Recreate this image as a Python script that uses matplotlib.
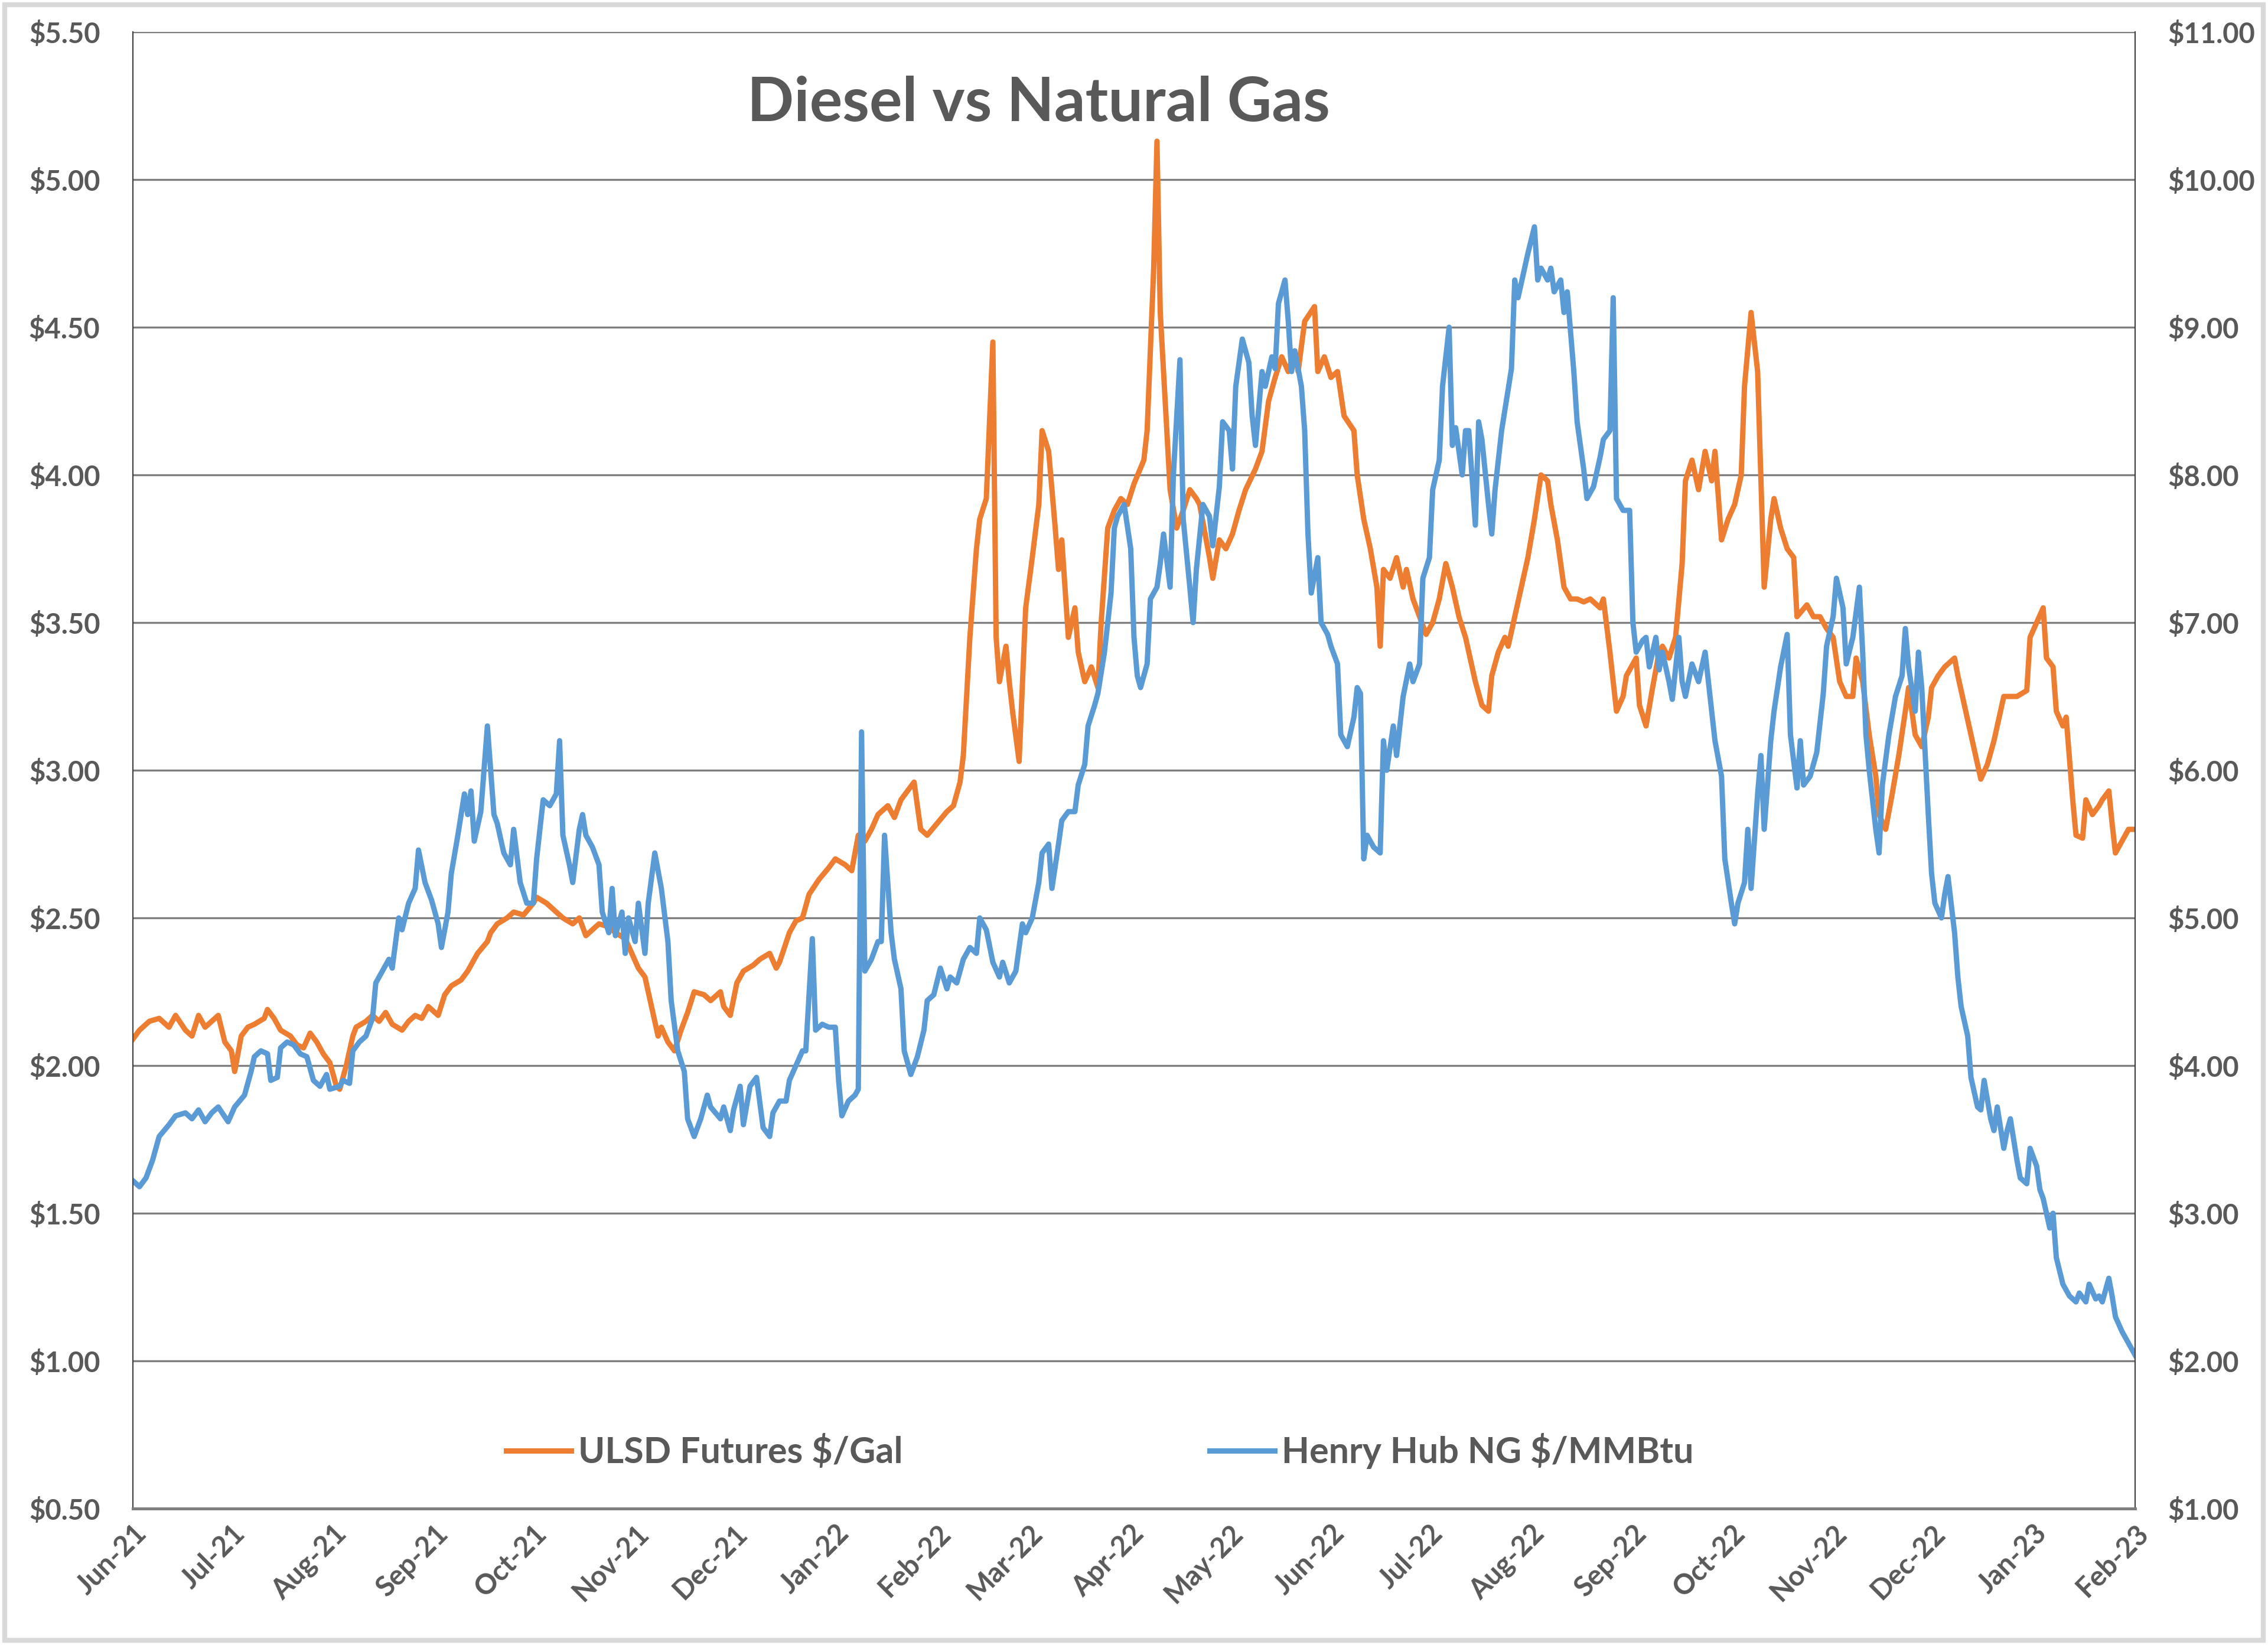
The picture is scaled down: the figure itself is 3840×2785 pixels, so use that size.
import datetime as dt

import matplotlib
matplotlib.use('Agg')
import matplotlib.pyplot as plt
import matplotlib.dates as mdates
from matplotlib.patches import Rectangle
from matplotlib.ticker import FuncFormatter, MultipleLocator

plt.rcParams['font.family'] = ['Lato', 'DejaVu Sans']

# chart data
start_date = dt.date(2021, 6, 1)
end_day = 610

title = 'Diesel vs Natural Gas'
ulsd_label = 'ULSD Futures $/Gal'
ng_label = 'Henry Hub NG $/MMBtu'

# ULSD futures, days since start_date and $/gal
ulsd_day = [
    0, 2, 5, 8, 11, 13, 16, 18, 20, 22, 25, 26, 28, 30, 31, 33, 35, 37, 40, 41,
    43, 45, 48, 50, 52, 54, 56, 58, 60, 62, 63, 65, 67, 68, 71, 73, 75, 77, 79, 82,
    84, 86, 88, 90, 93, 95, 97, 100, 102, 105, 108, 109, 111, 114, 116, 119, 122, 123, 126, 129,
    131, 134, 136, 138, 140, 142, 145, 147, 150, 152, 154, 156, 158, 160, 161, 163, 165, 167, 169, 171,
    174, 176, 179, 180, 182, 184, 186, 189, 191, 194, 196, 197, 200, 202, 204, 206, 209, 212, 214, 217,
    219, 221, 223, 225, 227, 230, 232, 234, 236, 238, 240, 242, 245, 248, 250, 252, 253, 255, 257, 258,
    260, 262, 263, 264, 266, 267, 268, 270, 272, 274, 276, 277, 279, 281, 282, 283, 285, 287, 288, 290,
    292, 294, 295, 297, 299, 301, 303, 305, 308, 309, 311, 312, 313, 315, 316, 318, 320, 322, 324, 325,
    328, 329, 331, 333, 335, 337, 339, 342, 344, 346, 348, 350, 352, 354, 355, 357, 360, 361, 363, 365,
    367, 369, 372, 373, 375, 377, 379, 380, 381, 383, 385, 387, 388, 390, 392, 394, 396, 398, 400, 402,
    404, 406, 407, 409, 411, 413, 414, 416, 418, 419, 421, 423, 425, 427, 429, 431, 432, 434, 436, 438,
    440, 442, 444, 447, 448, 450, 452, 454, 455, 458, 459, 461, 463, 465, 466, 468, 470, 472, 473, 475,
    477, 479, 481, 482, 484, 486, 488, 490, 491, 493, 495, 497, 499, 500, 502, 504, 506, 507, 510, 512,
    514, 516, 518, 520, 522, 524, 525, 527, 529, 531, 532, 534, 536, 538, 540, 541, 543, 545, 547, 548,
    550, 552, 555, 556, 558, 560, 562, 563, 565, 567, 569, 570, 572, 574, 577, 578, 580, 582, 583, 585,
    586, 588, 589, 591, 592, 594, 595, 597, 599, 600, 602, 603, 604, 606, 608, 610,
]
ulsd_price = [
    2.09, 2.12, 2.15, 2.16, 2.13, 2.17, 2.12, 2.10, 2.17, 2.13, 2.16, 2.17, 2.08, 2.05, 1.98, 2.10, 2.13, 2.14, 2.16, 2.19,
    2.16, 2.12, 2.10, 2.07, 2.06, 2.11, 2.08, 2.04, 2.01, 1.93, 1.92, 2.00, 2.10, 2.13, 2.15, 2.17, 2.15, 2.18, 2.14, 2.12,
    2.15, 2.17, 2.16, 2.20, 2.17, 2.24, 2.27, 2.29, 2.32, 2.38, 2.42, 2.45, 2.48, 2.50, 2.52, 2.51, 2.55, 2.57, 2.55, 2.52,
    2.50, 2.48, 2.50, 2.44, 2.46, 2.48, 2.47, 2.45, 2.43, 2.38, 2.33, 2.30, 2.20, 2.10, 2.13, 2.08, 2.05, 2.12, 2.18, 2.25,
    2.24, 2.22, 2.25, 2.20, 2.17, 2.28, 2.32, 2.34, 2.36, 2.38, 2.33, 2.35, 2.45, 2.49, 2.50, 2.58, 2.63, 2.67, 2.70, 2.68,
    2.66, 2.78, 2.76, 2.80, 2.85, 2.88, 2.84, 2.90, 2.93, 2.96, 2.80, 2.78, 2.82, 2.86, 2.88, 2.96, 3.05, 3.45, 3.75, 3.85,
    3.92, 4.45, 3.45, 3.30, 3.42, 3.30, 3.20, 3.03, 3.55, 3.72, 3.90, 4.15, 4.08, 3.82, 3.68, 3.78, 3.45, 3.55, 3.40, 3.30,
    3.35, 3.28, 3.50, 3.82, 3.88, 3.92, 3.90, 3.97, 4.05, 4.15, 4.70, 5.13, 4.55, 4.15, 3.95, 3.82, 3.88, 3.95, 3.92, 3.90,
    3.72, 3.65, 3.78, 3.75, 3.80, 3.88, 3.95, 4.02, 4.08, 4.25, 4.33, 4.40, 4.35, 4.42, 4.35, 4.52, 4.57, 4.35, 4.40, 4.33,
    4.35, 4.20, 4.15, 4.00, 3.85, 3.75, 3.62, 3.42, 3.68, 3.65, 3.72, 3.62, 3.68, 3.58, 3.52, 3.46, 3.50, 3.58, 3.70, 3.62,
    3.52, 3.45, 3.40, 3.30, 3.22, 3.20, 3.32, 3.40, 3.45, 3.42, 3.52, 3.62, 3.72, 3.85, 4.00, 3.98, 3.90, 3.78, 3.62, 3.58,
    3.58, 3.57, 3.58, 3.55, 3.58, 3.40, 3.20, 3.25, 3.32, 3.38, 3.22, 3.15, 3.28, 3.40, 3.42, 3.38, 3.45, 3.70, 3.98, 4.05,
    3.95, 4.08, 3.98, 4.08, 3.78, 3.85, 3.90, 4.00, 4.30, 4.55, 4.35, 3.62, 3.85, 3.92, 3.82, 3.75, 3.72, 3.52, 3.56, 3.52,
    3.52, 3.48, 3.45, 3.30, 3.25, 3.25, 3.38, 3.30, 3.12, 2.98, 2.85, 2.80, 2.92, 3.05, 3.20, 3.28, 3.12, 3.08, 3.18, 3.28,
    3.32, 3.35, 3.38, 3.32, 3.22, 3.12, 3.02, 2.97, 3.02, 3.10, 3.20, 3.25, 3.25, 3.25, 3.27, 3.45, 3.50, 3.55, 3.38, 3.35,
    3.20, 3.15, 3.18, 2.90, 2.78, 2.77, 2.90, 2.85, 2.88, 2.90, 2.93, 2.82, 2.72, 2.76, 2.80, 2.80,
]

# Henry Hub natural gas, days since start_date and $/MMBtu
ng_day = [
    0, 2, 4, 6, 8, 11, 13, 16, 18, 20, 22, 24, 26, 29, 31, 34, 36, 37, 39, 41,
    42, 44, 45, 47, 49, 51, 53, 55, 57, 59, 60, 63, 64, 66, 67, 69, 71, 73, 74, 76,
    78, 79, 81, 82, 84, 86, 87, 89, 91, 93, 94, 96, 97, 99, 101, 102, 103, 104, 106, 108,
    110, 111, 113, 115, 116, 118, 120, 122, 123, 125, 127, 129, 130, 131, 133, 134, 136, 137, 138, 140,
    142, 143, 145, 146, 147, 149, 150, 151, 153, 154, 156, 157, 159, 161, 163, 164, 166, 168, 169, 171,
    173, 175, 176, 179, 180, 182, 183, 185, 186, 188, 190, 192, 194, 195, 197, 199, 200, 202, 204, 205,
    207, 208, 210, 212, 214, 215, 216, 218, 220, 221, 222, 223, 225, 227, 228, 229, 231, 232, 234, 235,
    237, 239, 241, 242, 244, 246, 248, 249, 251, 253, 255, 257, 258, 260, 262, 264, 265, 267, 269, 271,
    272, 274, 276, 277, 279, 280, 282, 283, 285, 287, 288, 290, 291, 293, 294, 296, 298, 299, 300, 302,
    304, 305, 306, 307, 309, 310, 312, 313, 314, 316, 317, 319, 320, 322, 323, 324, 326, 328, 329, 331,
    332, 334, 335, 336, 338, 340, 341, 342, 344, 345, 347, 348, 349, 351, 352, 353, 354, 356, 357, 358,
    359, 361, 362, 364, 365, 367, 368, 370, 372, 373, 374, 375, 376, 378, 380, 381, 382, 384, 385, 387,
    389, 390, 392, 393, 395, 396, 398, 399, 401, 402, 403, 405, 406, 407, 409, 410, 411, 413, 414, 415,
    417, 418, 420, 421, 422, 424, 425, 427, 428, 429, 431, 432, 433, 435, 436, 437, 439, 440, 442, 443,
    445, 447, 448, 450, 451, 452, 454, 456, 457, 458, 460, 461, 462, 464, 465, 466, 468, 469, 471, 472,
    473, 475, 477, 479, 481, 482, 484, 485, 487, 488, 489, 491, 492, 493, 495, 496, 497, 499, 500, 502,
    504, 505, 507, 508, 509, 511, 513, 515, 516, 518, 519, 521, 522, 524, 526, 527, 528, 529, 531, 532,
    533, 535, 537, 539, 540, 541, 543, 544, 545, 547, 548, 549, 551, 552, 553, 555, 556, 557, 559, 560,
    562, 563, 564, 566, 567, 568, 570, 571, 572, 574, 575, 577, 578, 580, 581, 582, 584, 585, 586, 588,
    590, 592, 593, 595, 596, 598, 599, 600, 602, 603, 604, 606, 608, 610,
]
ng_price = [
    3.22, 3.18, 3.24, 3.36, 3.52, 3.60, 3.66, 3.68, 3.64, 3.70, 3.62, 3.68, 3.72, 3.62, 3.72, 3.80, 3.96, 4.06, 4.10, 4.08,
    3.90, 3.92, 4.12, 4.16, 4.14, 4.08, 4.06, 3.90, 3.86, 3.94, 3.84, 3.86, 3.90, 3.88, 4.10, 4.16, 4.20, 4.32, 4.56, 4.64,
    4.72, 4.66, 5.00, 4.92, 5.10, 5.20, 5.46, 5.24, 5.12, 4.96, 4.80, 5.04, 5.30, 5.56, 5.84, 5.70, 5.86, 5.52, 5.72, 6.30,
    5.70, 5.64, 5.44, 5.36, 5.60, 5.24, 5.10, 5.10, 5.40, 5.80, 5.76, 5.84, 6.20, 5.56, 5.36, 5.24, 5.60, 5.70, 5.56, 5.48,
    5.36, 5.04, 4.90, 5.20, 4.88, 5.04, 4.76, 5.00, 4.84, 5.10, 4.76, 5.10, 5.44, 5.20, 4.84, 4.44, 4.10, 3.96, 3.64, 3.52,
    3.64, 3.80, 3.72, 3.64, 3.72, 3.56, 3.70, 3.86, 3.60, 3.86, 3.92, 3.58, 3.52, 3.68, 3.76, 3.76, 3.90, 4.00, 4.10, 4.10,
    4.86, 4.24, 4.28, 4.26, 4.26, 3.90, 3.66, 3.76, 3.80, 3.84, 6.26, 4.64, 4.72, 4.84, 4.84, 5.56, 4.90, 4.72, 4.52, 4.10,
    3.94, 4.06, 4.24, 4.44, 4.48, 4.66, 4.52, 4.60, 4.56, 4.72, 4.80, 4.76, 5.00, 4.92, 4.70, 4.60, 4.70, 4.56, 4.64, 4.96,
    4.90, 5.00, 5.24, 5.44, 5.50, 5.20, 5.50, 5.66, 5.72, 5.72, 5.90, 6.04, 6.30, 6.44, 6.52, 6.80, 7.20, 7.64, 7.72, 7.80,
    7.50, 6.90, 6.64, 6.56, 6.72, 7.16, 7.24, 7.40, 7.60, 7.24, 8.00, 8.78, 7.70, 7.24, 7.00, 7.36, 7.80, 7.72, 7.52, 7.92,
    8.36, 8.30, 8.04, 8.60, 8.92, 8.76, 8.40, 8.20, 8.70, 8.60, 8.80, 8.72, 9.16, 9.32, 9.04, 8.70, 8.84, 8.60, 8.30, 7.60,
    7.20, 7.44, 7.00, 6.92, 6.84, 6.72, 6.24, 6.16, 6.36, 6.56, 6.52, 5.40, 5.56, 5.48, 5.44, 6.20, 6.00, 6.30, 6.10, 6.50,
    6.72, 6.60, 6.72, 7.30, 7.44, 7.90, 8.10, 8.60, 9.00, 8.20, 8.32, 8.00, 8.30, 8.30, 7.66, 8.36, 8.24, 7.80, 7.60, 7.90,
    8.30, 8.44, 8.72, 9.32, 9.20, 9.40, 9.50, 9.68, 9.32, 9.40, 9.32, 9.40, 9.24, 9.32, 9.10, 9.24, 8.70, 8.36, 8.04, 7.84,
    7.92, 8.12, 8.24, 8.30, 9.20, 7.84, 7.76, 7.76, 7.00, 6.80, 6.88, 6.90, 6.70, 6.90, 6.68, 6.80, 6.60, 6.48, 6.90, 6.60,
    6.50, 6.72, 6.60, 6.80, 6.40, 6.20, 5.96, 5.40, 5.10, 4.96, 5.10, 5.24, 5.60, 5.20, 5.84, 6.10, 5.60, 6.20, 6.40, 6.70,
    6.92, 6.24, 5.88, 6.20, 5.90, 5.96, 6.12, 6.52, 6.84, 7.04, 7.30, 7.10, 6.72, 6.90, 7.24, 6.80, 6.24, 6.00, 5.60, 5.44,
    5.90, 6.24, 6.50, 6.64, 6.96, 6.70, 6.40, 6.80, 6.56, 5.70, 5.30, 5.10, 5.00, 5.16, 5.28, 4.90, 4.60, 4.40, 4.20, 3.92,
    3.72, 3.70, 3.90, 3.64, 3.56, 3.72, 3.44, 3.56, 3.64, 3.36, 3.24, 3.20, 3.44, 3.32, 3.16, 3.10, 2.90, 3.00, 2.70, 2.52,
    2.44, 2.40, 2.46, 2.40, 2.52, 2.42, 2.44, 2.40, 2.56, 2.44, 2.30, 2.20, 2.12, 2.04,
]

ORANGE = '#ED7D31'
BLUE = '#5B9BD5'
TEXT = '#595959'
GRID = '#7F7F7F'


def to_dates(days):
    # day offsets -> real dates
    return [start_date + dt.timedelta(days=d) for d in days]


def money(v, pos):
    return '${:.2f}'.format(v)


def main():
    fig = plt.figure(figsize=(38.4, 27.85), dpi=100)
    ax = fig.add_axes([0.0586, 0.0829, 0.8828, 0.8977])
    ax2 = ax.twinx()

    # series
    ln1, = ax.plot(to_dates(ulsd_day), ulsd_price, color=ORANGE, lw=6.5,
                   solid_joinstyle='round', label=ulsd_label)
    ln2, = ax2.plot(to_dates(ng_day), ng_price, color=BLUE, lw=6.5,
                    solid_joinstyle='round', label=ng_label)

    # axes limits and ticks
    ax.set_xlim(start_date, start_date + dt.timedelta(days=end_day))
    ax.set_ylim(0.5, 5.5)
    ax2.set_ylim(1, 11)
    ax.yaxis.set_major_locator(MultipleLocator(0.5))
    ax2.yaxis.set_major_locator(MultipleLocator(1))
    ax.yaxis.set_major_formatter(FuncFormatter(money))
    ax2.yaxis.set_major_formatter(FuncFormatter(money))
    ax.xaxis.set_major_locator(mdates.MonthLocator())
    ax.xaxis.set_major_formatter(mdates.DateFormatter('%b-%y'))

    ax.grid(axis='y', color=GRID, lw=2.4)
    ax.set_axisbelow(True)

    for a in (ax, ax2):
        a.tick_params(length=0, labelsize=34, labelcolor=TEXT)
        a.spines['top'].set_visible(False)
        a.spines['left'].set_color('#404040')
        a.spines['left'].set_linewidth(1.5)
        a.spines['right'].set_color('#404040')
        a.spines['right'].set_linewidth(1.5)
        a.spines['bottom'].set_color(GRID)
        a.spines['bottom'].set_linewidth(3.5)
        for lbl in a.get_yticklabels() + a.get_xticklabels():
            lbl.set_fontweight('bold')
    ax.tick_params(axis='y', pad=40)
    ax2.tick_params(axis='y', pad=40)
    ax.tick_params(axis='x', pad=14)
    for lbl in ax.get_xticklabels():
        lbl.set_rotation(45)
        lbl.set_ha('right')
        lbl.set_rotation_mode('anchor')

    # title inside the plot
    fig.text(0.458, 0.937, title, fontsize=75, fontweight='bold',
             color=TEXT, ha='center', va='center')

    # legend along the bottom
    leg = ax.legend([ln1, ln2], [ulsd_label, ng_label], ncol=2,
                    loc='center', bbox_to_anchor=(0.483, 0.039),
                    frameon=False, handlelength=1.8, handletextpad=0.2,
                    columnspacing=8.5, prop={'size': 44, 'weight': 'bold'})
    for t in leg.get_texts():
        t.set_color(TEXT)

    # light chart border
    fig.patches.append(Rectangle((0.002, 0.003), 0.996, 0.994,
                                 transform=fig.transFigure, fill=False,
                                 ec='#D9D9D9', lw=6))

    fig.savefig('out.png', dpi=100, facecolor='white')


if __name__ == '__main__':
    main()
